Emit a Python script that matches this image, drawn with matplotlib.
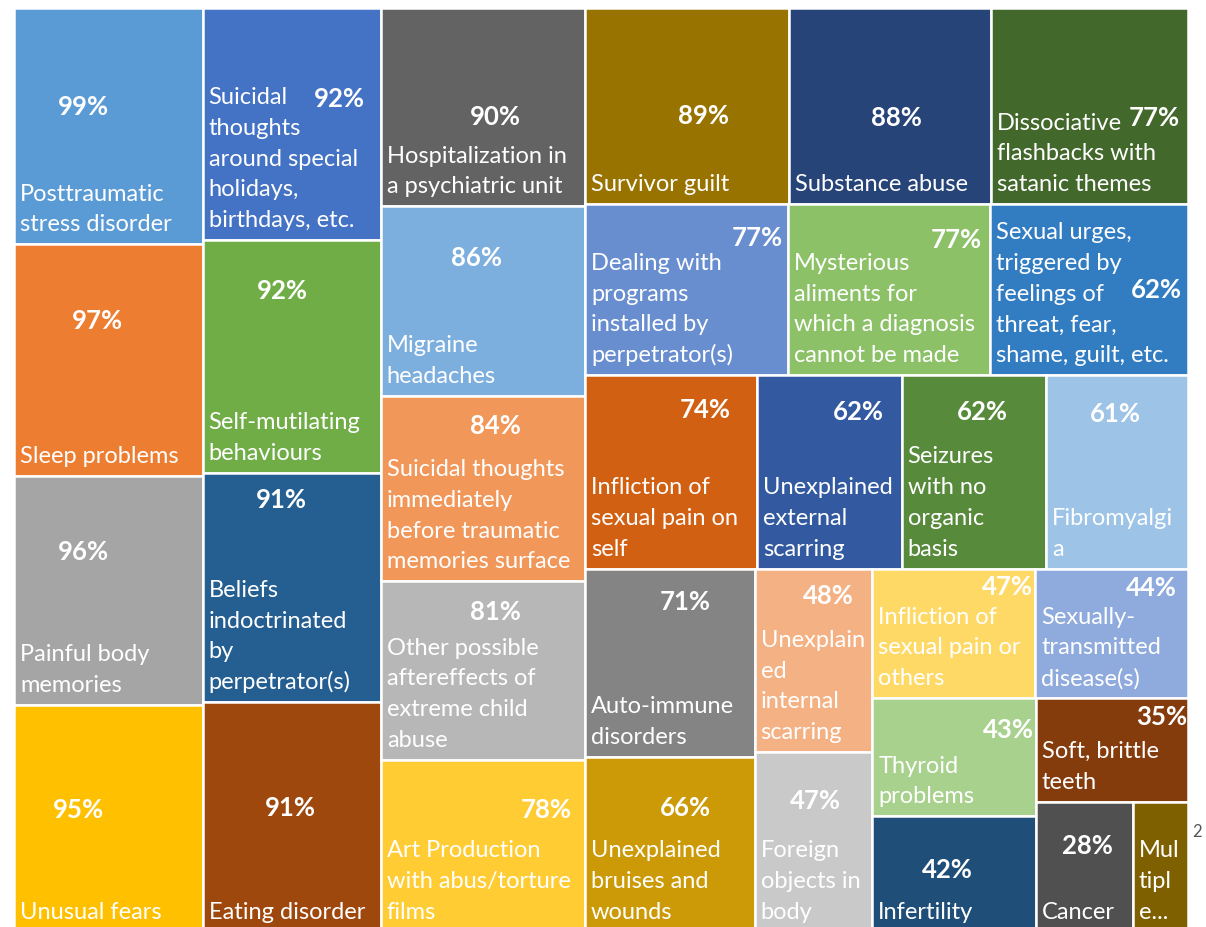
import matplotlib
matplotlib.use("Agg")
import matplotlib.pyplot as plt
from matplotlib.patches import Rectangle

# =============================================================================
# DATA (in layout order)
# =============================================================================

names = [
    "Posttraumatic\nstress disorder", "Sleep problems", "Painful body\nmemories", "Unusual fears",
    "Suicidal\nthoughts\naround special\nholidays,\nbirthdays, etc.", "Self-mutilating\nbehaviours",
    "Beliefs\nindoctrinated\nby\nperpetrator(s)", "Eating disorder",
    "Hospitalization in\na psychiatric unit", "Migraine\nheadaches",
    "Suicidal thoughts\nimmediately\nbefore traumatic\nmemories surface",
    "Other possible\naftereffects of\nextreme child\nabuse", "Art Production\nwith abus/torture\nfilms",
    "Survivor guilt", "Substance abuse", "Dissociative\nflashbacks with\nsatanic themes",
    "Dealing with\nprograms\ninstalled by\nperpetrator(s)",
    "Mysterious\naliments for\nwhich a diagnosis\ncannot be made",
    "Sexual urges,\ntriggered by\nfeelings of\nthreat, fear,\nshame, guilt, etc.",
    "Infliction of\nsexual pain on\nself", "Unexplained\nexternal\nscarring",
    "Seizures\nwith no\norganic\nbasis", "Fibromyalgi\na",
    "Auto-immune\ndisorders", "Unexplained\nbruises and\nwounds",
    "Unexplain\ned\ninternal\nscarring", "Foreign\nobjects in\nbody",
    "Infliction of\nsexual pain or\nothers", "Sexually-\ntransmitted\ndisease(s)",
    "Thyroid\nproblems", "Infertility", "Soft, brittle\nteeth", "Cancer", "Mul\ntipl\ne...",
]

# percentages shown on the cells (None = label not visible)
pct_labels = [99, 97, 96, 95, 92, 92, 91, 91, 90, 86, 84, 81, 78, 89, 88, 77, 77, 77, 62,
              74, 62, 62, 61, 71, 66, 48, 47, 47, 44, 43, 42, 35, 28, None]

# cell areas as drawn (differ from the label for a few cells)
area_values = [99, 97, 96, 95, 92, 92, 91, 91, 90, 86, 84, 81, 78, 89, 88, 86, 77, 77, 75,
               74, 62, 62, 61, 71, 66, 48, 47, 47, 44, 43, 42, 35, 28, 16]

colors = [
    "#5B9BD5", "#ED7D31", "#A5A5A5", "#FFC000",
    "#4472C4", "#70AD47", "#255E91", "#9E480E",
    "#636363", "#7CAFDD", "#F1975A", "#B7B7B7", "#FFCD33",
    "#997300", "#264478", "#43682B",
    "#698ED0", "#8CC168", "#327DC2",
    "#D26012", "#335AA1", "#588A3C", "#9DC3E6",
    "#848484", "#CC9A06",
    "#F4B183", "#C9C9C9",
    "#FFD966", "#8FAADC",
    "#A9D18E", "#1F4E79",
    "#843C0C", "#505050", "#7F6000",
]

# strip plan: (orientation, number of items)
plan = [("col", 4), ("col", 4), ("col", 5), ("row", 3), ("row", 3), ("row", 4),
        ("col", 2), ("col", 2), ("row", 2), ("col", 2), ("row", 1), ("row", 2)]

# percent label anchor inside each cell (fraction of width, fraction of height from top)
pct_pos = [
    (0.37, 0.42), (0.44, 0.33), (0.37, 0.33), (0.34, 0.46),
    (0.77, 0.39), (0.45, 0.22), (0.44, 0.12), (0.49, 0.46),
    (0.56, 0.55), (0.47, 0.27), (0.56, 0.16), (0.56, 0.17), (0.81, 0.29),
    (0.58, 0.55), (0.53, 0.56), (0.83, 0.56),
    (0.85, 0.20), (0.83, 0.21), (0.84, 0.50),
    (0.70, 0.18), (0.70, 0.19), (0.56, 0.19), (0.49, 0.20),
    (0.59, 0.18), (0.59, 0.29),
    (0.63, 0.15), (0.52, 0.27),
    (0.83, 0.14), (0.76, 0.15),
    (0.83, 0.27), (0.46, 0.46),
    (0.83, 0.18), (0.53, 0.34), None,
]

# =============================================================================
# LAYOUT
# =============================================================================

def strip_layout(values, plan, x0, y0, w, h):
    rects = []
    i = 0
    for orient, n in plan:
        group = values[i:i + n]
        frac = sum(group) / sum(values[i:])
        if orient == "col":
            sw = w * frac
            yy = y0
            for v in group:
                hh = h * v / sum(group)
                rects.append((x0, yy, sw, hh))
                yy += hh
            x0 += sw
            w -= sw
        else:
            sh = h * frac
            xx = x0
            for v in group:
                ww = w * v / sum(group)
                rects.append((xx, y0, ww, sh))
                xx += ww
            y0 += sh
            h -= sh
        i += n
    return rects


W, H = 1174, 924
rects = strip_layout(area_values, plan, 0, 0, W, H)

fig = plt.figure(figsize=(12.06, 9.27), dpi=100)
ax = fig.add_axes([14 / 1206, -5 / 927, W / 1206, H / 927])
ax.set_xlim(0, W)
ax.set_ylim(H, 0)
ax.axis("off")

FONT = "Lato"
FS = 17
LINE = 30.8

for (x, y, w, h), name, pct, col, pos in zip(rects, names, pct_labels, colors, pct_pos):
    ax.add_patch(Rectangle((x, y), w, h, facecolor=col, edgecolor="white", lw=1.8))
    # category name, one text per line, stacked up from the cell bottom
    for k, line in enumerate(reversed(name.split("\n"))):
        ax.text(x + 6, y + h - 13 - k * LINE, line, color="white", fontsize=FS,
                family=FONT, ha="left", va="baseline")
    if pct is not None:
        ax.text(x + pos[0] * w, y + pos[1] * h, f"{pct}%", color="white",
                fontsize=FS + 1.5, family=FONT, fontweight="bold", ha="center", va="center")

# clipped label spilling out of the last cell
ax.text(W + 4, 824, "2", color="#555555", fontsize=12, family=FONT,
        ha="left", va="center", clip_on=False)

fig.savefig("out.png", dpi=100)
